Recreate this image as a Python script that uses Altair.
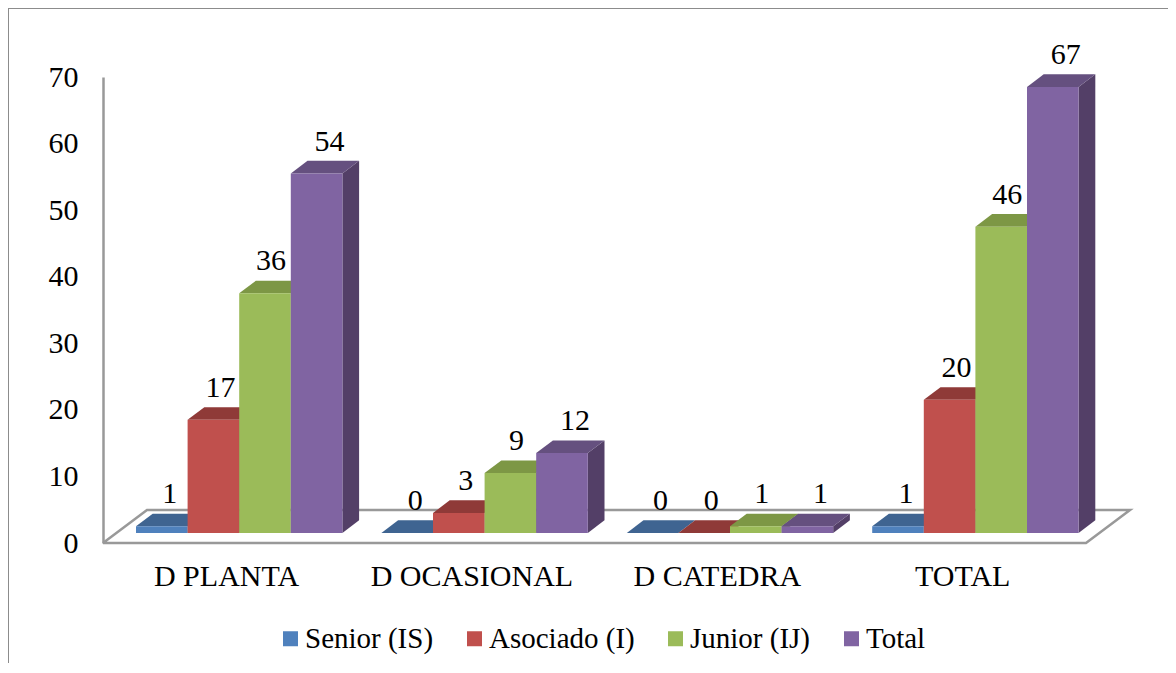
import altair as alt
import pandas as pd

categories = ["D PLANTA", "D OCASIONAL", "D CATEDRA", "TOTAL"]
series = ["Senior (IS)", "Asociado (I)", "Junior (IJ)", "Total"]
senior = [1, 0, 0, 1]
asociado = [17, 3, 0, 20]
junior = [36, 9, 1, 46]
total = [54, 12, 1, 67]
front_colors = ["#4F81BD", "#C0504D", "#9BBB59", "#8064A2"]
top_colors = ["#3F6491", "#8F3A38", "#7D9745", "#65507F"]
side_colors = ["#355478", "#7A2F2D", "#65793A", "#533F67"]
y_ticks = [0, 10, 20, 30, 40, 50, 60, 70]

# depth and layout, in axis units (bar widths / value units)
PXX = 51.6
PXY = 466 / 70
STEP = 245.4 / PXX
START = 33 / PXX
DX = 16.7 / PXX
DY = 12.7 / PXY
BASE = 10 / PXY
FLOOR_DX = 44 / PXX
FLOOR_DY = 33 / PXY
FLOOR_W = 983 / PXX
XMAX = 1027 / PXX
LABEL0 = 123 / PXX
LABEL_SHIFT = [8, 7, 6, 13]

front, top, side = [], [], []
for s, vals in enumerate([senior, asociado, junior, total]):
    for g, v in enumerate(vals):
        x0 = START + g * STEP + s
        x1 = x0 + 1
        key = f"{g}-{s}"
        front.append(dict(series=series[s], x0=x0, x1=x1, y0=BASE, y1=BASE + v, v=v,
                          xm=(x0 + x1) / 2 + LABEL_SHIFT[s] / PXX, top=BASE + v))
        b = BASE + v
        for x, y, y2 in [(x0, b, b), (x0 + DX, b + DY, b), (x1, b + DY, b), (x1 + DX, b + DY, b + DY)]:
            top.append(dict(key=key, fill=top_colors[s], x=x, y=y, y2=y2))
        for x, y, y2 in [(x1, b, BASE), (x1 + DX, b + DY, BASE + DY)]:
            side.append(dict(key=key, fill=side_colors[s], x=x, y=y, y2=y2))

floor = pd.DataFrame([
    dict(i=0, x=0, y=0), dict(i=1, x=FLOOR_W, y=0), dict(i=2, x=FLOOR_W + FLOOR_DX, y=FLOOR_DY),
    dict(i=3, x=FLOOR_DX, y=FLOOR_DY), dict(i=4, x=0, y=0),
])
front = pd.DataFrame(front)
top = pd.DataFrame(top)
side = pd.DataFrame(side)
label_pos = [LABEL0 + i * STEP for i in range(4)]

xs = alt.Scale(domain=[0, XMAX], nice=False, zero=False)
ys = alt.Scale(domain=[0, 70], nice=False, zero=False)
names = "[" + ",".join(f"'{c}'" for c in categories) + "]"

x_axis = alt.Axis(values=label_pos, labelExpr=f"{names}[round(datum.index*3)]", domain=False, ticks=False,
                  grid=False, title=None, labelFontSize=30, labelPadding=18, labelColor="#000000",
                  labelFlush=False, labelOverlap=False, labelLimit=400)
y_axis = alt.Axis(values=y_ticks, domainColor="#999999", domainWidth=2.5, ticks=False, grid=False, title=None,
                  labelFontSize=30, labelPadding=25, labelColor="#000000", labelOverlap=False)

floor_l = alt.Chart(floor).mark_line(color="#999999", strokeWidth=2.5, clip=False).encode(
    x=alt.X("x:Q", scale=xs, axis=x_axis), y=alt.Y("y:Q", scale=ys, axis=y_axis), order="i:O")

side_l = alt.Chart(side).mark_area(orient="vertical", clip=False).encode(
    x=alt.X("x:Q", scale=xs), y=alt.Y("y:Q", scale=ys), y2="y2:Q",
    detail="key:N", fill=alt.Fill("fill:N", scale=None))
top_l = alt.Chart(top).mark_area(orient="vertical", clip=False).encode(
    x=alt.X("x:Q", scale=xs), y=alt.Y("y:Q", scale=ys), y2="y2:Q",
    detail="key:N", fill=alt.Fill("fill:N", scale=None))

legend = alt.Legend(orient="none", legendX=173, legendY=547, direction="horizontal", columns=4, title=None,
                    symbolType="square", symbolSize=225, symbolStrokeWidth=0, labelFontSize=29, labelOffset=0,
                    labelLimit=300, columnPadding=26, padding=0, labelColor="#000000")
front_l = alt.Chart(front).mark_rect(clip=False).encode(
    x=alt.X("x0:Q", scale=xs), x2="x1:Q", y=alt.Y("y0:Q", scale=ys), y2="y1:Q",
    color=alt.Color("series:N", scale=alt.Scale(domain=series, range=front_colors), sort=series, legend=legend))

text_l = alt.Chart(front).mark_text(fontSize=30, dy=-32, color="#000000", clip=False).encode(
    x=alt.X("xm:Q", scale=xs), y=alt.Y("top:Q", scale=ys), text="v:Q")

frame_left = alt.Chart(pd.DataFrame({"a": [0]})).mark_rule(color="#8C8C8C", strokeWidth=2).encode(
    x=alt.value(-95), y=alt.value(-69), y2=alt.value(596))
frame_top = alt.Chart(pd.DataFrame({"a": [0]})).mark_rule(color="#8C8C8C", strokeWidth=2).encode(
    x=alt.value(-95), x2=alt.value(1073), y=alt.value(-69))

chart = alt.layer(frame_left, frame_top, floor_l, side_l, top_l, front_l, text_l).properties(
    width=1027, height=466, background="#FFFFFF",
    autosize=alt.AutoSizeParams(type="none"),
    padding={"left": 95, "top": 69, "right": 38, "bottom": 120},
).configure(font="Liberation Serif").configure_view(stroke=None)

chart.save("out.html", embed_options={"renderer": "svg", "actions": False})
